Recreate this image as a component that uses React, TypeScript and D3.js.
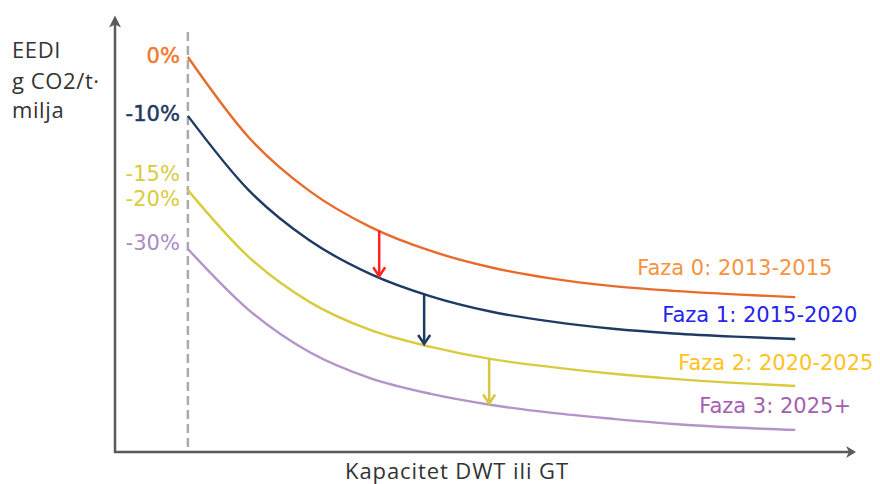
import React from "react";
import * as d3 from "d3";

// capacity (DWT / GT), arbitrary units
const capacity = [0, 10, 20, 30, 40, 50, 60, 70, 80, 90, 100];

// EEDI reference lines per phase
const faza0 = [100, 79.7, 66.1, 57.0, 50.9, 46.7, 43.9, 42.0, 40.8, 39.9, 39.2];
const faza1 = [85.1, 66.3, 53.6, 45.1, 39.4, 35.5, 33.0, 31.2, 30.0, 29.2, 28.6];
const faza2 = [66.3, 49.4, 38.0, 30.9, 26.6, 23.5, 21.5, 19.8, 18.5, 17.5, 16.7];
const faza3 = [51.4, 36.0, 25.3, 18.7, 14.7, 11.9, 9.9, 8.4, 7.1, 6.2, 5.6];

const series = [faza0, faza1, faza2, faza3];
const lineColors = ["#E86B2C", "#1F3B63", "#D8CB3E", "#B493CA"];

const phaseLabels = ["Faza 0: 2013-2015", "Faza 1: 2015-2020", "Faza 2: 2020-2025", "Faza 3: 2025+"];
const phaseColors = ["#F7923E", "#2424EE", "#FFC21C", "#A45EB0"];
const phaseDx = [-158, -133, -117, -96];
const phaseDy = [-22, -17, -16, -17];

// reduction labels: text, series they belong to, offset
const pctLabels = ["0%", "-10%", "-15%", "-20%", "-30%"];
const pctSeries = [0, 1, 2, 2, 3];
const pctColors = ["#EE7A30", "#1F3864", "#D9CB3B", "#D9CB3B", "#A88CC6"];
const pctDy = [6, 5, -9, 16, 1];

// step arrows between phases
const arrowAt = [31.5, 38.9, 49.6];
const arrowColors = ["#FF2424", "#1F3B63", "#D6C73E"];

const width = 880;
const height = 484;

const x = d3.scaleLinear().domain([-12, 110]).range([115, 856]);
const y = d3.scaleLinear().domain([0, 110]).range([452, 17.5]);

const line = d3
  .line<number>()
  .x((d, i) => x(capacity[i]))
  .y((d) => y(d))
  .curve(d3.curveMonotoneX);

// read a curve's value at a capacity (piecewise, good enough for arrow ends)
const valueAt = (s: number[], c: number) => {
  const i = Math.min(Math.max(d3.bisectRight(capacity, c), 1), capacity.length - 1);
  const t = (c - capacity[i - 1]) / (capacity[i] - capacity[i - 1]);
  return s[i - 1] + (s[i] - s[i - 1]) * t;
};

const App = () => {
  const x0 = x(0);
  const axisColor = "#5A5A5A";
  const top = y(110);
  const left = x(-12);
  const right = x(110);
  const bottom = y(0);

  return (
    <svg
      width={width}
      height={height}
      style={{ position: "absolute", left: 0, top: 0, background: "#fff" }}
    >
      {/* axes */}
      <line x1={left} x2={left} y1={bottom + 1} y2={top + 6} stroke={axisColor} strokeWidth={2.5} />
      <path
        d={`M${left - 6},${top + 10} L${left},${top - 2} L${left + 6},${top + 10} L${left},${top + 7} Z`}
        fill={axisColor}
      />
      <line x1={left - 1} x2={right - 6} y1={bottom} y2={bottom} stroke={axisColor} strokeWidth={2.5} />
      <path
        d={`M${right - 10},${bottom - 6} L${right},${bottom} L${right - 10},${bottom + 6} L${right - 7},${bottom} Z`}
        fill={axisColor}
      />

      {/* dashed start line */}
      <line x1={x0} x2={x0} y1={32} y2={bottom} stroke="#ABABAB" strokeWidth={2.5} strokeDasharray="9,5" />

      {/* curves */}
      {series.map((s, i) => (
        <path key={i} d={line(s) || ""} fill="none" stroke={lineColors[i]} strokeWidth={2.4} />
      ))}

      {/* arrows */}
      {arrowAt.map((c, i) => {
        const ax = x(c);
        const y1 = y(valueAt(series[i], c));
        const y2 = y(valueAt(series[i + 1], c)) - 1;
        return (
          <g key={i} stroke={arrowColors[i]} strokeWidth={2.5} fill="none">
            <line x1={ax} x2={ax} y1={y1} y2={y2 - 2} />
            <path d={`M${ax - 6},${y2 - 9} L${ax},${y2} L${ax + 6},${y2 - 9}`} strokeLinejoin="miter" />
          </g>
        );
      })}

      {/* percent labels */}
      {pctLabels.map((t, i) => (
        <text
          key={t}
          x={x0 - 8}
          y={y(series[pctSeries[i]][0]) + pctDy[i]}
          textAnchor="end"
          fontFamily="DejaVu Sans"
          fontSize={21}
          fill={pctColors[i]}
          stroke={i < 2 ? pctColors[i] : "none"}
          strokeWidth={0.5}
        >
          {t}
        </text>
      ))}

      {/* phase labels */}
      {phaseLabels.map((t, i) => {
        const s = series[i];
        return (
          <text
            key={t}
            x={x(100) + phaseDx[i]}
            y={y(s[s.length - 1]) + phaseDy[i]}
            fontFamily="DejaVu Sans"
            fontSize={21}
            fill={phaseColors[i]}
          >
            {t}
          </text>
        );
      })}

      {/* axis titles */}
      <text fontFamily="Open Sans" fontSize={22} fill="#333" letterSpacing={0.6}>
        <tspan x={12} y={58}>EEDI</tspan>
        <tspan x={12} y={89}>g CO2/t·</tspan>
        <tspan x={12} y={118}>milja</tspan>
      </text>
      <text
        x={345}
        y={479}
        textLength={223}
        lengthAdjust="spacing"
        fontFamily="Open Sans"
        fontSize={22}
        fill="#333"
      >
        Kapacitet DWT ili GT
      </text>
    </svg>
  );
};

export default App;
